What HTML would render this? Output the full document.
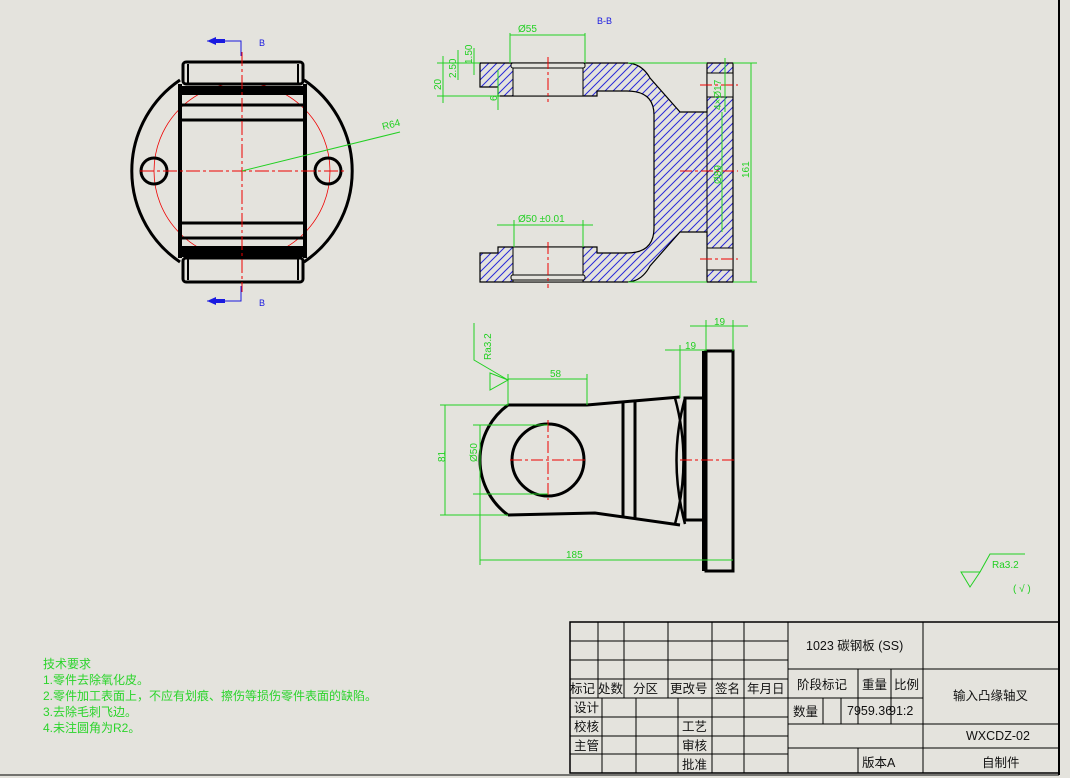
<!DOCTYPE html>
<html><head><meta charset="utf-8"><style>
html,body{margin:0;padding:0;background:#e4e3dd;}
svg{display:block;}
.g{fill:#22d022;font-family:"Liberation Sans","Noto Sans CJK SC",sans-serif;font-size:10px;}
.t{font-family:"Liberation Sans","Noto Sans CJK SC",sans-serif;font-size:12.5px;fill:#111;}
.tg{font-family:"Liberation Sans","Noto Sans CJK SC",sans-serif;font-size:12px;fill:#2bd42b;}
</style></head><body>
<svg width="1070" height="778" viewBox="0 0 1070 778" xmlns="http://www.w3.org/2000/svg">
<defs>
<pattern id="h" patternUnits="userSpaceOnUse" width="8" height="8">
<path d="M-1,9 L9,-1 M-1,1 L1,-1 M7,9 L9,7" stroke="#2a2ad8" stroke-width="1"/>
</pattern>
</defs>
<rect width="1070" height="778" fill="#e4e3dd"/>
<line x1="1059" y1="0" x2="1059" y2="775" stroke="#000" stroke-width="2"/>
<line x1="0" y1="775" x2="1059" y2="775" stroke="#000" stroke-width="1"/>

<!-- ===== Front view ===== -->
<g stroke="#000" fill="none">
<path d="M180,80 A110,110 0 0 0 180,262" stroke-width="3"/>
<path d="M304,80 A110,110 0 0 1 304,262" stroke-width="3"/>
<circle cx="242" cy="171" r="88" stroke="#e00" stroke-width="0.8"/>
<rect x="183" y="62" width="120" height="22" rx="3" stroke-width="3"/>
<rect x="183" y="258" width="120" height="24" rx="3" stroke-width="3"/>
<line x1="188" y1="64" x2="188" y2="84" stroke-width="2"/>
<line x1="298" y1="64" x2="298" y2="84" stroke-width="2"/>
<line x1="188" y1="258" x2="188" y2="280" stroke-width="2"/>
<line x1="298" y1="258" x2="298" y2="280" stroke-width="2"/>
<line x1="180" y1="84" x2="180" y2="258" stroke-width="4"/>
<line x1="305" y1="84" x2="305" y2="258" stroke-width="4"/>
<rect x="180" y="86" width="125" height="9" fill="#000" stroke="none"/>
<rect x="180" y="246" width="125" height="11" fill="#000" stroke="none"/>
<line x1="180" y1="105" x2="305" y2="105" stroke-width="3"/>
<line x1="180" y1="120" x2="305" y2="120" stroke-width="3"/>
<line x1="180" y1="223" x2="305" y2="223" stroke-width="3"/>
<line x1="180" y1="238" x2="305" y2="238" stroke-width="3"/>
<circle cx="154" cy="171" r="13" stroke-width="3"/>
<circle cx="328" cy="171" r="13" stroke-width="3"/>
<line x1="140" y1="171" x2="345" y2="171" stroke="#e00" stroke-width="1" stroke-dasharray="14,3,3,3"/>
<line x1="242" y1="52" x2="242" y2="292" stroke="#e00" stroke-width="1" stroke-dasharray="14,3,3,3"/>
</g>
<g stroke="#1a1ae0" fill="none" stroke-width="1">
<path d="M207,41 H241 V56"/><path d="M207,301 H241 V286"/>
</g>
<path d="M207,41 L216,37 L216,45 Z M207,301 L216,297 L216,305 Z" fill="#1a1ae0"/>
<rect x="215" y="39" width="10" height="4" fill="#1a1ae0"/><rect x="215" y="299" width="10" height="4" fill="#1a1ae0"/>
<text x="259" y="46" font-family="Liberation Sans" font-size="9" fill="#1a1ae0">B</text>
<text x="259" y="306" font-family="Liberation Sans" font-size="9" fill="#1a1ae0">B</text>
<line x1="242" y1="171" x2="400" y2="132" stroke="#22d022" stroke-width="1"/>
<text x="383" y="130" class="g" transform="rotate(-14 383 130)">R64</text>

<!-- ===== B-B section ===== -->
<text x="597" y="24" font-family="Liberation Sans" font-size="9" fill="#1a1ae0">B-B</text>
<path d="M480,63 H628 Q642,64 650,78 L680,112 H707 V63 H733 V282 H707 V232 H680 L650,266 Q642,281 628,282 H480 V253 H498 V247 H597 V253 H627 Q654,253 654,228 V115 Q654,91 627,91 H597 V96 H498 V87 H480 Z" fill="url(#h)" stroke="#000" stroke-width="1.2"/>
<rect x="513" y="63" width="70" height="33" fill="#e4e3dd" stroke="#000" stroke-width="1"/>
<rect x="513" y="247" width="70" height="35" fill="#e4e3dd" stroke="#000" stroke-width="1"/>
<rect x="511" y="63" width="74" height="5" rx="2" fill="#e4e3dd" stroke="#000" stroke-width="1"/>
<rect x="511" y="275" width="74" height="5" rx="2" fill="#e4e3dd" stroke="#000" stroke-width="1"/>
<rect x="707" y="73" width="26" height="24" fill="#e4e3dd" stroke="#000" stroke-width="1"/>
<rect x="707" y="248" width="26" height="22" fill="#e4e3dd" stroke="#000" stroke-width="1"/>
<line x1="707" y1="63" x2="707" y2="282" stroke="#000" stroke-width="1"/>
<g stroke="#e00" stroke-width="1" stroke-dasharray="12,3,3,3">
<line x1="548" y1="57" x2="548" y2="102"/><line x1="548" y1="242" x2="548" y2="288"/>
<line x1="700" y1="85" x2="738" y2="85"/><line x1="700" y1="259" x2="738" y2="259"/>
<line x1="680" y1="171" x2="738" y2="171"/>
</g>
<g stroke="#22d022" stroke-width="1" fill="none">
<line x1="510" y1="33" x2="510" y2="63"/><line x1="585" y1="33" x2="585" y2="63"/><line x1="510" y1="35" x2="585" y2="35"/>
<line x1="497" y1="225" x2="593" y2="225"/><line x1="514" y1="220" x2="514" y2="247"/><line x1="583" y1="220" x2="583" y2="247"/>
<line x1="437" y1="63" x2="480" y2="63"/><line x1="437" y1="96" x2="500" y2="96"/><line x1="443" y1="56" x2="443" y2="103"/>
<line x1="458" y1="50" x2="458" y2="80"/><line x1="474" y1="48" x2="474" y2="75"/><line x1="498" y1="70" x2="498" y2="110"/>
<line x1="733" y1="63" x2="757" y2="63"/><line x1="733" y1="282" x2="757" y2="282"/><line x1="751" y1="63" x2="751" y2="282"/>
<line x1="722" y1="112" x2="722" y2="232"/><line x1="725" y1="58" x2="725" y2="112"/>
<line x1="628" y1="63" x2="707" y2="63"/><line x1="628" y1="282" x2="707" y2="282"/>
</g>
<text x="518" y="32" class="g">Ø55</text>
<text x="518" y="222" class="g">Ø50 ±0.01</text>
<text class="g" transform="translate(441,90) rotate(-90)">20</text>
<text class="g" transform="translate(456,78) rotate(-90)">2.50</text>
<text class="g" transform="translate(472,64) rotate(-90)">1.50</text>
<text class="g" transform="translate(497,101) rotate(-90)">6</text>
<text class="g" transform="translate(749,178) rotate(-90)">161</text>
<text class="g" transform="translate(721,184) rotate(-90)">Ø89</text>
<text class="g" transform="translate(721,110) rotate(-90)">4×Ø17</text>

<!-- ===== Side view ===== -->
<g stroke="#000" fill="none" stroke-width="3">
<path d="M508,405 L587,405 L680,397 M508,515 L595,513 L680,525"/>
<path d="M508,405 A68,68 0 0 0 508,515"/>
<circle cx="548" cy="460" r="36"/>
<line x1="623" y1="401" x2="623" y2="518"/><line x1="635" y1="400" x2="635" y2="519"/>
<path d="M675,398 Q692,460 675,524 M685,398 Q668,460 685,524" stroke-width="2.5"/>
<rect x="685" y="398" width="19" height="122"/>
<rect x="706" y="351" width="27" height="220" stroke-width="3"/>
<line x1="704" y1="351" x2="704" y2="571" stroke-width="4"/>
</g>
<g stroke="#e00" stroke-width="1" stroke-dasharray="12,3,3,3">
<line x1="510" y1="460" x2="586" y2="460"/><line x1="548" y1="420" x2="548" y2="500"/>
<line x1="680" y1="460" x2="737" y2="460"/>
</g>
<g stroke="#22d022" stroke-width="1" fill="none">
<path d="M474,323 V360 L508,380 M490,373 L508,380 L490,390 Z"/>
<line x1="508" y1="379" x2="587" y2="379"/><line x1="587" y1="374" x2="587" y2="405"/><line x1="508" y1="374" x2="508" y2="405"/>
<line x1="690" y1="326" x2="748" y2="326"/><line x1="706" y1="320" x2="706" y2="351"/><line x1="733" y1="320" x2="733" y2="351"/>
<line x1="665" y1="350" x2="706" y2="350"/><line x1="680" y1="345" x2="680" y2="398"/>
<line x1="445" y1="405" x2="445" y2="515"/><line x1="440" y1="405" x2="508" y2="405"/><line x1="440" y1="515" x2="508" y2="515"/>
<line x1="480" y1="425" x2="480" y2="495"/><line x1="473" y1="425" x2="548" y2="425"/><line x1="473" y1="494" x2="548" y2="494"/>
<line x1="480" y1="495" x2="480" y2="565"/><line x1="480" y1="560" x2="733" y2="560"/>
</g>
<text class="g" transform="translate(491,360) rotate(-90)">Ra3.2</text>
<text x="550" y="377" class="g">58</text>
<text x="714" y="325" class="g">19</text>
<text x="685" y="349" class="g">19</text>
<text class="g" transform="translate(445,462) rotate(-90)">81</text>
<text class="g" transform="translate(477,462) rotate(-90)">Ø50</text>
<text x="566" y="558" class="g">185</text>

<path d="M961,572 H980 L970,587 Z M980,572 L990,554 H1025" stroke="#22d022" fill="none" stroke-width="1"/>
<text x="992" y="568" class="g" font-size="11">Ra3.2</text>
<text x="1013" y="592" class="g" font-size="11">( √ )</text>

<text x="43" y="668" class="tg">技术要求</text>
<text x="43" y="684" class="tg">1.零件去除氧化皮。</text>
<text x="43" y="700" class="tg">2.零件加工表面上，不应有划痕、擦伤等损伤零件表面的缺陷。</text>
<text x="43" y="716" class="tg">3.去除毛刺飞边。</text>
<text x="43" y="732" class="tg">4.未注圆角为R2。</text>

<g stroke="#000" stroke-width="1" fill="none">
<rect x="570" y="622" width="489" height="151" stroke-width="1.5"/>
<line x1="570" y1="641" x2="788" y2="641"/><line x1="570" y1="660" x2="788" y2="660"/>
<line x1="570" y1="679" x2="788" y2="679"/><line x1="570" y1="698" x2="788" y2="698"/>
<line x1="570" y1="717" x2="788" y2="717"/><line x1="570" y1="736" x2="788" y2="736"/><line x1="570" y1="754" x2="788" y2="754"/>
<line x1="598" y1="622" x2="598" y2="698"/><line x1="624" y1="622" x2="624" y2="698"/><line x1="668" y1="622" x2="668" y2="698"/>
<line x1="712" y1="622" x2="712" y2="773"/><line x1="744" y1="622" x2="744" y2="773"/><line x1="788" y1="622" x2="788" y2="773"/>
<line x1="602" y1="698" x2="602" y2="773"/><line x1="636" y1="698" x2="636" y2="773"/><line x1="678" y1="698" x2="678" y2="773"/>
<line x1="923" y1="622" x2="923" y2="773"/>
<line x1="788" y1="669" x2="1059" y2="669"/><line x1="788" y1="698" x2="923" y2="698"/>
<line x1="788" y1="724" x2="1059" y2="724"/><line x1="788" y1="748" x2="1059" y2="748"/>
<line x1="858" y1="669" x2="858" y2="724"/><line x1="891" y1="669" x2="891" y2="724"/>
<line x1="823" y1="698" x2="823" y2="724"/><line x1="841" y1="698" x2="841" y2="724"/>
<line x1="858" y1="748" x2="858" y2="773"/>
</g>
<g class="t">
<text x="570" y="693" class="t">标记</text><text x="598" y="693" class="t">处数</text>
<text x="633" y="693" class="t">分区</text><text x="670" y="693" class="t">更改号</text>
<text x="715" y="693" class="t">签名</text><text x="747" y="693" class="t">年月日</text>
<text x="574" y="712" class="t">设计</text><text x="574" y="731" class="t">校核</text><text x="574" y="750" class="t">主管</text>
<text x="682" y="731" class="t">工艺</text><text x="682" y="750" class="t">审核</text><text x="682" y="769" class="t">批准</text>
<text x="806" y="650" class="t" font-size="12">1023 碳钢板 (SS)</text>
<text x="797" y="689" class="t">阶段标记</text><text x="862" y="689" class="t">重量</text><text x="894" y="689" class="t">比例</text>
<text x="793" y="716" class="t">数量</text>
<text x="847" y="715" class="t" font-size="11.5">7959.36</text><text x="889" y="715" class="t" font-size="11.5">91:2</text>
<text x="953" y="700" class="t">输入凸缘轴叉</text>
<text x="966" y="740" class="t" font-size="11">WXCDZ-02</text>
<text x="862" y="767" class="t">版本A</text>
<text x="982" y="767" class="t">自制件</text>
</g>
</svg>
</body></html>
